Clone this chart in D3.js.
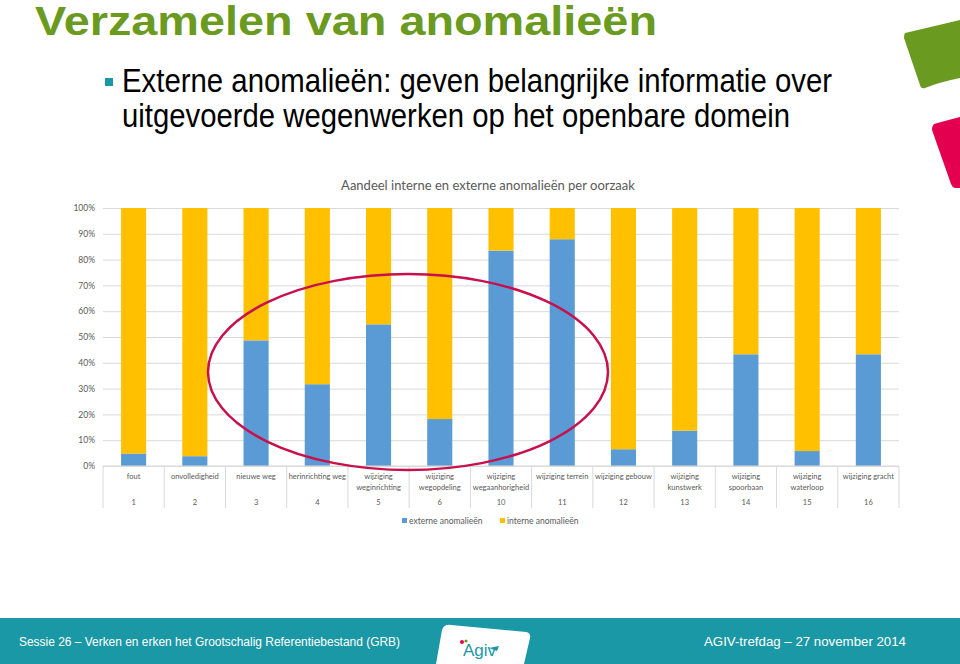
<!DOCTYPE html>
<html><head><meta charset="utf-8">
<script src="https://cdn.jsdelivr.net/npm/d3@7"></script>
<style>html,body{margin:0;padding:0;background:#fff;}svg{display:block;}</style>
</head><body>
<script>
const categories = ["1","2","3","4","5","6","10","11","12","13","14","15","16"];
const catLabels = [["fout"],["onvolledigheid"],["nieuwe weg"],["herinrichting weg"],["wijziging","weginrichting"],["wijziging","wegopdeling"],["wijziging","wegaanhorigheid"],["wijziging terrein"],["wijziging gebouw"],["wijziging","kunstwerk"],["wijziging","spoorbaan"],["wijziging","waterloop"],["wijziging gracht"]];
const externe = [4.8, 3.8, 48.7, 31.7, 54.9, 18.2, 83.5, 87.9, 6.5, 13.7, 43.3, 5.8, 43.3];
const interne = externe.map(v => 100 - v);
const seriesNames = ["externe anomalieën", "interne anomalieën"];
const seriesColors = ["#5b9bd5", "#ffc000"];
const yTicks = [0,10,20,30,40,50,60,70,80,90,100];

const W = 960, H = 664;
const svg = d3.select("body").append("svg").attr("width", W).attr("height", H);

// slide title
svg.append("text").attr("x", 35).attr("y", 35).attr("textLength", 622).attr("lengthAdjust","spacingAndGlyphs")
  .style("font-family","'Liberation Sans', Arial, sans-serif").style("font-weight","bold").style("font-size","40px")
  .attr("fill","#6b9a20").text("Verzamelen van anomalieën");

// bullet
svg.append("rect").attr("x",105).attr("y",78).attr("width",8).attr("height",8).attr("fill","#1b98a6");
svg.append("text").attr("x",122).attr("y",92).attr("textLength",710).attr("lengthAdjust","spacingAndGlyphs")
  .style("font-family","'Liberation Sans', Arial, sans-serif").style("font-size","33px").attr("fill","#000")
  .text("Externe anomalieën: geven belangrijke informatie over");
svg.append("text").attr("x",122).attr("y",127).attr("textLength",668).attr("lengthAdjust","spacingAndGlyphs")
  .style("font-family","'Liberation Sans', Arial, sans-serif").style("font-size","33px").attr("fill","#000")
  .text("uitgevoerde wegenwerken op het openbare domein");

// decorative shapes top right
svg.append("path").attr("d","M905,33 Q935,26 960,20 L960,78 Q940,82 925,88 Q921,89 920,85 L904,38 Q904,34 905,33 Z").attr("fill","#6b9a20");
svg.append("path").attr("d","M934,124 Q948,120 960,117 L960,188 L955,188 Q952,187 951,184 L932,130 Q932,126 934,124 Z").attr("fill","#e2004f");

// chart
const m = {left:103, right:899, top:208, bottom:466};
const x = d3.scaleBand().domain(categories).range([m.left, m.right]).paddingInner(0.59).paddingOuter(0.295);
const xb = d3.scaleBand().domain(categories).range([m.left, m.right]).padding(0);
const y = d3.scaleLinear().domain([0,100]).range([m.bottom, m.top]);
const font = "Lato, 'Open Sans', sans-serif";

svg.append("text").attr("x", 488).attr("y", 190).attr("text-anchor","middle")
  .style("font-family",font).style("font-size","13px").attr("fill","#595959")
  .text("Aandeel interne en externe anomalieën per oorzaak");

const yAxis = d3.axisLeft(y).tickValues(yTicks).tickSize(-(m.right-m.left)).tickFormat(d => d + "%");
const ga = svg.append("g").attr("transform",`translate(${m.left},0)`).call(yAxis);
ga.select(".domain").remove();
ga.selectAll(".tick line").attr("stroke","#d9d9d9").attr("stroke-width",1);
ga.selectAll(".tick text").attr("x",-8).attr("fill","#595959").style("font-family",font).style("font-size","8.5px");

const data = categories.map((c,i) => ({cat:c, externe:externe[i], interne:interne[i]}));
const stack = d3.stack().keys(["externe","interne"])(data);
svg.append("g").selectAll("g").data(stack).join("g").attr("fill",(d,i)=>seriesColors[i])
  .selectAll("rect").data(d=>d).join("rect")
  .attr("x", d => x(d.data.cat)).attr("width", x.bandwidth())
  .attr("y", d => y(d[1])).attr("height", d => y(d[0]) - y(d[1]));

// x axis
svg.append("line").attr("x1",m.left).attr("x2",m.right).attr("y1",m.bottom).attr("y2",m.bottom).attr("stroke","#d9d9d9");
const sepX = categories.map(c => xb(c)).concat([m.right]);
svg.append("g").selectAll("line").data(sepX).join("line")
  .attr("x1",d=>d).attr("x2",d=>d).attr("y1",m.bottom).attr("y2",508).attr("stroke","#d9d9d9");
const gl = svg.append("g").style("font-family",font).style("font-size","7.5px").attr("fill","#595959").attr("text-anchor","middle");
categories.forEach((c,i) => {
  const cx = xb(c) + xb.bandwidth()/2;
  catLabels[i].forEach((t,j) => gl.append("text").attr("x",cx).attr("y",479 + j*10.5).text(t));
  gl.append("text").attr("x",cx).attr("y",505).text(c);
});

// legend
const legX = [402, 500];
seriesNames.forEach((n,i) => {
  svg.append("rect").attr("x",legX[i]).attr("y",518).attr("width",5).attr("height",5).attr("fill",seriesColors[i]);
  svg.append("text").attr("x",legX[i]+7).attr("y",524).style("font-family",font).style("font-size","8.5px").attr("fill","#595959").text(n);
});

// highlight ellipse
svg.append("ellipse").attr("cx",408).attr("cy",372).attr("rx",200).attr("ry",98)
  .attr("fill","none").attr("stroke","#c8104c").attr("stroke-width",2.5);

// footer
svg.append("rect").attr("x",0).attr("y",618).attr("width",W).attr("height",H-618).attr("fill","#1b98a6");
svg.append("text").attr("x",19).attr("y",646).attr("textLength",381).attr("lengthAdjust","spacingAndGlyphs")
  .style("font-family","'Liberation Sans', Arial, sans-serif").style("font-size","13px").attr("fill","#fff")
  .text("Sessie 26 – Verken en erken het Grootschalig Referentiebestand (GRB)");
svg.append("text").attr("x",704).attr("y",646).attr("textLength",202).attr("lengthAdjust","spacingAndGlyphs")
  .style("font-family","'Liberation Sans', Arial, sans-serif").style("font-size","13.5px").attr("fill","#fff")
  .text("AGIV-trefdag – 27 november 2014");

// logo card
svg.append("path").attr("d","M442,630 Q444,624 451,625 L526,632 Q531,633 530,638 L524,664 L436,664 Z").attr("fill","#fff");
svg.append("text").attr("x",463).attr("y",656).style("font-family","'Liberation Sans', Arial, sans-serif").style("font-size","17px")
  .attr("fill","#1b98a6").text("Agiv");
svg.append("path").attr("d","M489,648 L499,646 L497,651 Z").attr("fill","#1b98a6");
svg.append("circle").attr("cx",462).attr("cy",642).attr("r",2).attr("fill","#e2004f");
svg.append("circle").attr("cx",466).attr("cy",641).attr("r",1.6).attr("fill","#6b9a20");
</script>
</body></html>
